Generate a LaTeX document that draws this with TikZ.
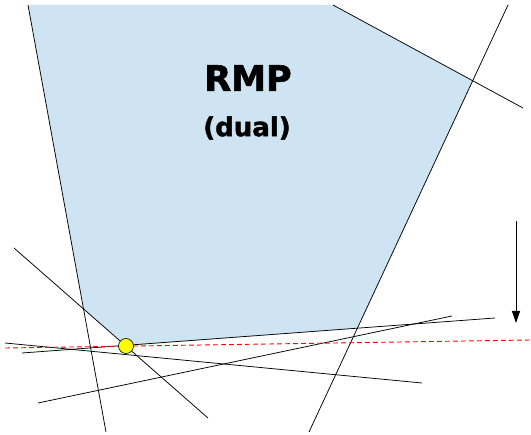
\documentclass[tikz,border=0pt]{standalone}
\usepackage{fontspec}
\setsansfont{DejaVu Sans}
\newfontfamily\heavysans[FakeBold=1.6]{DejaVu Sans Bold}
\definecolor{RegionBlue}{RGB}{207,228,242}
\definecolor{PointYellow}{RGB}{255,255,0}
\usetikzlibrary{arrows.meta, positioning, calc}

\begin{document}
\begin{tikzpicture}[x=1pt, y=-1pt,
    every node/.style={font=\heavysans, align=center},
    cut/.style={draw=black, line width=0.75pt},
    objline/.style={draw=red, dash pattern=on 5pt off 3pt, line width=0.9pt},
    optpoint/.style={circle, draw=black, fill=PointYellow, line width=0.6pt, minimum size=15pt, inner sep=0pt}
]
\useasboundingbox (0,0) rectangle (531,435);
% end points of the cuts
\coordinate (a1) at (28,5);   \coordinate (a2) at (106,432);
\coordinate (b1) at (333,5);  \coordinate (b2) at (523,108);
\coordinate (c1) at (508,5);  \coordinate (c2) at (309,432);
\coordinate (d1) at (14,248); \coordinate (d2) at (208,418);
\coordinate (e1) at (22,353); \coordinate (e2) at (495,318);
\coordinate (f1) at (5,343);  \coordinate (f2) at (422,383);
\coordinate (g1) at (38,403); \coordinate (g2) at (452,316);
\coordinate (h1) at (5,348);  \coordinate (h2) at (531,340);
\coordinate (opt) at (126,346);
\coordinate (k1) at (intersection of a1--a2 and d1--d2);
\coordinate (k2) at (intersection of e1--e2 and c1--c2);
\coordinate (k3) at (intersection of b1--b2 and c1--c2);
% feasible region
\fill[RegionBlue] (a1) -- (b1) -- (k3) -- (k2) -- (opt) -- (k1) -- cycle;
\draw[cut] (a1) -- (a2);
\draw[cut] (b1) -- (b2);
\draw[cut] (c1) -- (c2);
\draw[cut] (d1) -- (d2);
\draw[cut] (e1) -- (e2);
\draw[cut] (f1) -- (f2);
\draw[cut] (g1) -- (g2);
\draw[objline] (h1) -- (h2);
\node[optpoint] (pt) at (opt) {};
\node[font=\heavysans\fontsize{35}{40}\selectfont] (rmp) at (248,78) {RMP};
\node[font=\heavysans\fontsize{26}{30}\selectfont] (dual) at (247,128) {(dual)};
\coordinate (s1) at (516,221);
\coordinate (s2) at (516,323);
\draw[-{Triangle[length=12pt, width=8pt]}, line width=0.9pt] (s1) -- (s2);
\end{tikzpicture}
\end{document}
